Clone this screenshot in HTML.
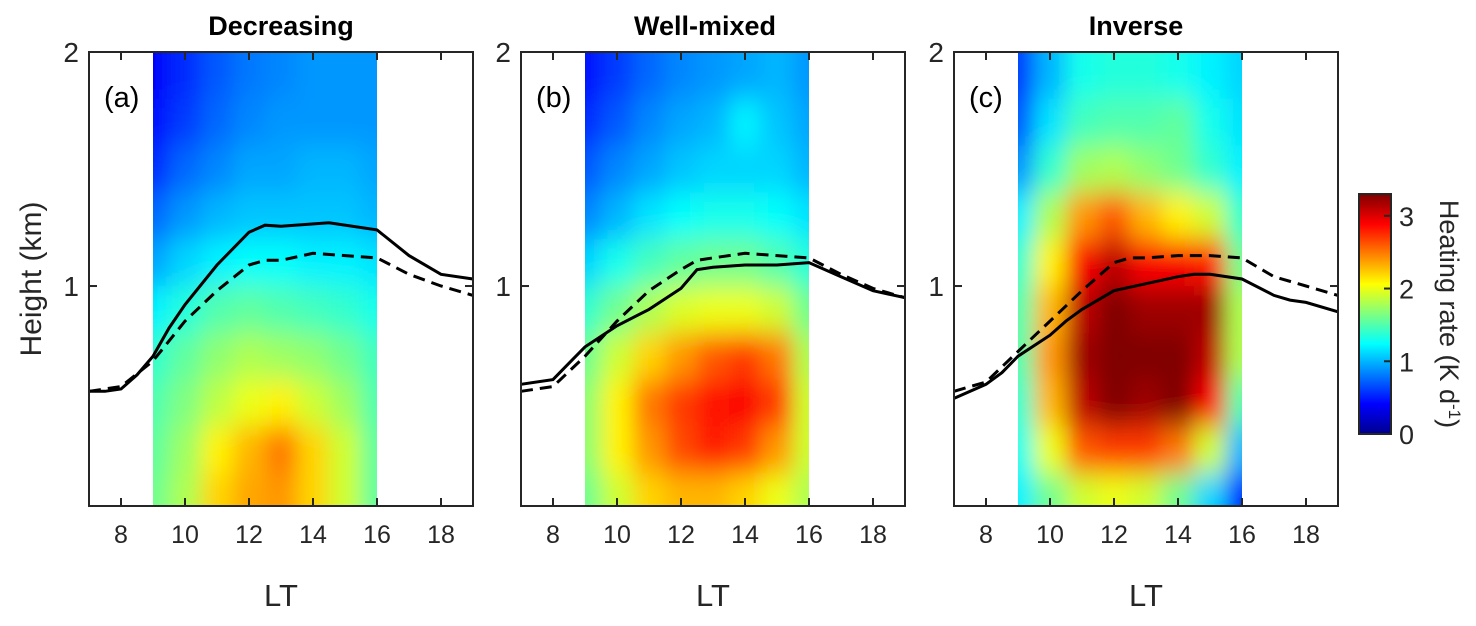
<!DOCTYPE html>
<html><head><meta charset="utf-8"><style>
body{margin:0;background:#fff;width:1476px;height:621px;overflow:hidden}
text{font-family:"Liberation Sans",Arial,sans-serif}
</style></head><body>
<svg id="chart" width="1476" height="621" xmlns="http://www.w3.org/2000/svg">
<defs>
<linearGradient id="cbg" x1="0" y1="1" x2="0" y2="0">
<stop offset="0" stop-color="#00008f"/><stop offset="0.125" stop-color="#0000ff"/><stop offset="0.375" stop-color="#00ffff"/><stop offset="0.625" stop-color="#ffff00"/><stop offset="0.875" stop-color="#ff0000"/><stop offset="1" stop-color="#800000"/>
</linearGradient>
</defs>
</svg>
<script>
const ltRange=[7,19], hRange=[0.06,2];
const gridLT=[9,10,11,12,13,14,15,16];
const gridH=[1.9,1.7,1.5,1.3,1.1,0.9,0.7,0.5,0.3,0.1];
const valsA=[
[0.4,0.55,0.7,0.8,0.85,0.9,0.9,0.9],
[0.45,0.6,0.75,0.85,0.9,0.9,0.9,0.9],
[0.55,0.75,0.85,0.95,0.95,1.0,1.0,0.95],
[0.75,0.9,1.0,1.05,1.05,1.05,1.05,1.0],
[0.95,1.1,1.2,1.25,1.25,1.2,1.2,1.15],
[1.2,1.35,1.5,1.55,1.5,1.45,1.4,1.3],
[1.4,1.55,1.7,1.8,1.75,1.7,1.6,1.45],
[1.5,1.65,1.85,2.0,2.1,1.9,1.75,1.5],
[1.55,1.75,2.1,2.3,2.5,2.2,1.9,1.55],
[1.6,1.8,2.2,2.35,2.4,2.2,1.9,1.55]];
const valsB=[
[0.45,0.6,0.75,0.85,0.9,0.95,1.0,0.9],
[0.55,0.7,0.85,0.95,1.0,1.2,1.05,0.95],
[0.7,0.85,0.95,1.05,1.1,1.1,1.1,1.0],
[0.85,1.0,1.15,1.25,1.3,1.3,1.25,1.15],
[1.1,1.3,1.45,1.55,1.6,1.6,1.5,1.35],
[1.4,1.6,1.8,1.95,2.0,2.0,1.9,1.6],
[1.6,1.9,2.2,2.4,2.6,2.7,2.5,1.8],
[1.7,2.1,2.5,2.7,2.85,2.9,2.7,1.9],
[1.7,2.1,2.4,2.65,2.8,2.7,2.4,1.9],
[1.6,1.9,2.2,2.3,2.3,2.2,2.0,1.8]];
const valsC=[
[0.6,1.0,1.3,1.35,1.35,1.3,1.2,1.1],
[0.7,1.15,1.45,1.5,1.5,1.55,1.3,1.15],
[0.9,1.4,1.75,1.8,1.7,1.6,1.4,1.2],
[1.2,1.8,2.4,2.6,2.3,2.1,1.9,1.4],
[1.4,2.1,2.9,3.1,2.9,2.9,2.8,1.6],
[1.5,2.3,3.1,3.3,3.2,3.2,3.2,1.8],
[1.5,2.4,3.2,3.5,3.3,3.5,3.1,1.8],
[1.4,2.3,3.1,3.3,3.2,3.3,2.9,1.5],
[1.3,2.0,2.6,2.7,2.7,2.5,1.9,1.0],
[1.2,1.6,1.9,2.0,1.9,1.6,1.1,0.5]];
const solidLT_A=[7,7.5,8,8.5,9,9.5,10,11,12,12.5,13,14.5,16,17,18,19];
const solidH_A=[0.55,0.55,0.56,0.62,0.7,0.82,0.92,1.09,1.23,1.26,1.255,1.27,1.24,1.13,1.05,1.03];
const dashLT_A=[7,8,9,10,11,12,12.5,13,14,16,17,18,19];
const dashH_A=[0.55,0.57,0.68,0.85,0.98,1.09,1.11,1.11,1.14,1.12,1.05,1.0,0.96];
const solidLT_B=[7,8,8.5,9,10,11,12,12.5,13,14,15,16,17,18,19];
const solidH_B=[0.58,0.6,0.67,0.74,0.83,0.9,0.99,1.07,1.08,1.09,1.09,1.1,1.04,0.98,0.95];
const dashLT_B=[7,8,9,10,11,12,12.5,13,14,15,16,17,18,19];
const dashH_B=[0.55,0.57,0.7,0.85,0.98,1.07,1.11,1.12,1.14,1.13,1.12,1.05,0.99,0.95];
const solidLT_C=[7,8,8.5,9,10,10.5,11,12,13,14,14.5,15,16,17,17.5,18,19];
const solidH_C=[0.52,0.58,0.63,0.7,0.79,0.85,0.9,0.98,1.01,1.04,1.05,1.05,1.03,0.96,0.94,0.93,0.89];
const dashLT_C=[7,8,9,10,11,12,12.5,13,14,15,16,17,18,19];
const dashH_C=[0.55,0.59,0.72,0.85,0.98,1.1,1.12,1.12,1.13,1.13,1.12,1.04,1.0,0.96];
const xTicks=[8,10,12,14,16,18];
const yTicks=[1,2];
const cbTicks=[0,1,2,3];
const cbRange=[0,3.3];
const titles=["Decreasing","Well-mixed","Inverse"];
const tags=["(a)","(b)","(c)"];

const NS="http://www.w3.org/2000/svg";
const svg=document.getElementById('chart');
function mk(tag,attrs,parent){const e=document.createElementNS(NS,tag);for(const k in attrs)e.setAttribute(k,attrs[k]);(parent||svg).appendChild(e);return e;}
function jet(v){let t=Math.max(0,Math.min(1,(v-cbRange[0])/(cbRange[1]-cbRange[0])));
 const f=(x)=>Math.max(0,Math.min(1,x));
 const r=f(Math.min(4*t-1.5,-4*t+4.5)),g=f(Math.min(4*t-0.5,-4*t+3.5)),b=f(Math.min(4*t+0.5,-4*t+2.5));
 return `rgb(${Math.round(r*255)},${Math.round(g*255)},${Math.round(b*255)})`;}
const axTop=52,axBot=506;
const panels=[{x0:89,vals:valsA,s:[solidLT_A,solidH_A],d:[dashLT_A,dashH_A]},
{x0:521,vals:valsB,s:[solidLT_B,solidH_B],d:[dashLT_B,dashH_B]},
{x0:954,vals:valsC,s:[solidLT_C,solidH_C],d:[dashLT_C,dashH_C]}];
const W=384;
const defs=svg.querySelector('defs');
panels.forEach((p,i)=>{
 const X=v=>p.x0+(v-ltRange[0])/(ltRange[1]-ltRange[0])*W;
 const Y=v=>axBot-(v-hRange[0])/(hRange[1]-hRange[0])*(axBot-axTop);
 const g=mk('g',{});
 
 
 const hx0=X(9),hx1=X(16);
 const cp=mk('clipPath',{id:'clip'+i},defs);mk('rect',{x:hx0,y:axTop,width:hx1-hx0,height:axBot-axTop},cp);
 const fl=mk('filter',{id:'blur'+i,filterUnits:'userSpaceOnUse',x:hx0-40,y:axTop-60,width:hx1-hx0+80,height:axBot-axTop+120},defs);
 mk('feGaussianBlur',{stdDeviation:'10 14',edgeMode:'duplicate'},fl);
 const hc=mk('g',{'clip-path':`url(#clip${i})`},g);
 
 
 const hb=mk('g',{filter:`url(#blur${i})`},hc);
 const cw=(X(10)-X(9));
 gridH.forEach((h,r)=>{gridLT.forEach((lt,c)=>{
  const x=c===0?hx0-30:X(lt)-cw/2, x2=c===gridLT.length-1?hx1+30:X(lt)+cw/2;
  const y1=r===0?axTop-40:Y(h+0.1), y2=r===gridH.length-1?axBot+40:Y(h-0.1);
  const rc=mk('rect',{x:x,y:y1,width:x2-x+0.5,height:y2-y1+0.5,fill:jet(p.vals[r][c])},hb);
  
  
 });});
 const pts=a=>a[0].map((v,k)=>X(v).toFixed(1)+','+Y(a[1][k]).toFixed(1)).join(' ');
 const ls=mk('polyline',{points:pts(p.s),fill:'none',stroke:'#000','stroke-width':3},g);
 
 
 const ld=mk('polyline',{points:pts(p.d),fill:'none',stroke:'#000','stroke-width':3,'stroke-dasharray':'12,7'},g);
 
 
 const bx=mk('rect',{x:p.x0,y:axTop,width:W,height:axBot-axTop,fill:'none',stroke:'#262626','stroke-width':2},g);
 
 
 xTicks.forEach(t=>{
  mk('line',{x1:X(t),x2:X(t),y1:axBot,y2:axBot-8,stroke:'#262626','stroke-width':2},g);
  mk('line',{x1:X(t),x2:X(t),y1:axTop,y2:axTop+8,stroke:'#262626','stroke-width':2},g);
  const tl=mk('text',{x:X(t),y:axBot+37,'text-anchor':'middle','font-size':25,fill:'#262626'},g);tl.textContent=t;
  
  
 });
 yTicks.forEach(t=>{
  mk('line',{x1:p.x0,x2:p.x0+8,y1:Y(t),y2:Y(t),stroke:'#262626','stroke-width':2},g);
  mk('line',{x1:p.x0+W,x2:p.x0+W-8,y1:Y(t),y2:Y(t),stroke:'#262626','stroke-width':2},g);
  const tl=mk('text',{x:p.x0-10,y:Y(t)+10,'text-anchor':'end','font-size':28,fill:'#262626'},g);tl.textContent=t;
  
  
 });
 const xl=mk('text',{x:p.x0+W/2,y:606,'text-anchor':'middle','font-size':31,fill:'#262626'},g);xl.textContent='LT';
 
 
 const tt=mk('text',{x:p.x0+W/2-[0,8,10][i],y:35,'text-anchor':'middle','font-size':27,'font-weight':'bold',fill:'#000'},g);tt.textContent=titles[i];
 
 
 const tg=mk('text',{x:p.x0+15,y:107,'font-size':29,fill:'#000'},g);tg.textContent=tags[i];
 
 
});
const yl=mk('text',{x:0,y:0,transform:'translate(41,279) rotate(-90)','text-anchor':'middle','font-size':30,fill:'#262626'});yl.textContent='Height (km)';


const cb=mk('g',{});


const cTop=194,cBot=434;
const CY=v=>cBot-(v-cbRange[0])/(cbRange[1]-cbRange[0])*(cBot-cTop);
mk('rect',{x:1359,y:cTop,width:32,height:cBot-cTop,fill:'url(#cbg)',stroke:'#262626','stroke-width':2},cb);
cbTicks.forEach(t=>{
 mk('line',{x1:1391,x2:1384,y1:CY(t),y2:CY(t),stroke:'#262626','stroke-width':2},cb);
 const tl=mk('text',{x:1399,y:CY(t)+10,'font-size':27,fill:'#262626'},cb);tl.textContent=t;
 
 
});
const cl=mk('text',{x:0,y:0,transform:'translate(1440,314) rotate(90)','text-anchor':'middle','font-size':27,fill:'#262626'},cb);
cl.innerHTML='Heating rate (K d<tspan dy="-9" font-size="17">-1</tspan><tspan dy="9">)</tspan>';


</script>
</body></html>
